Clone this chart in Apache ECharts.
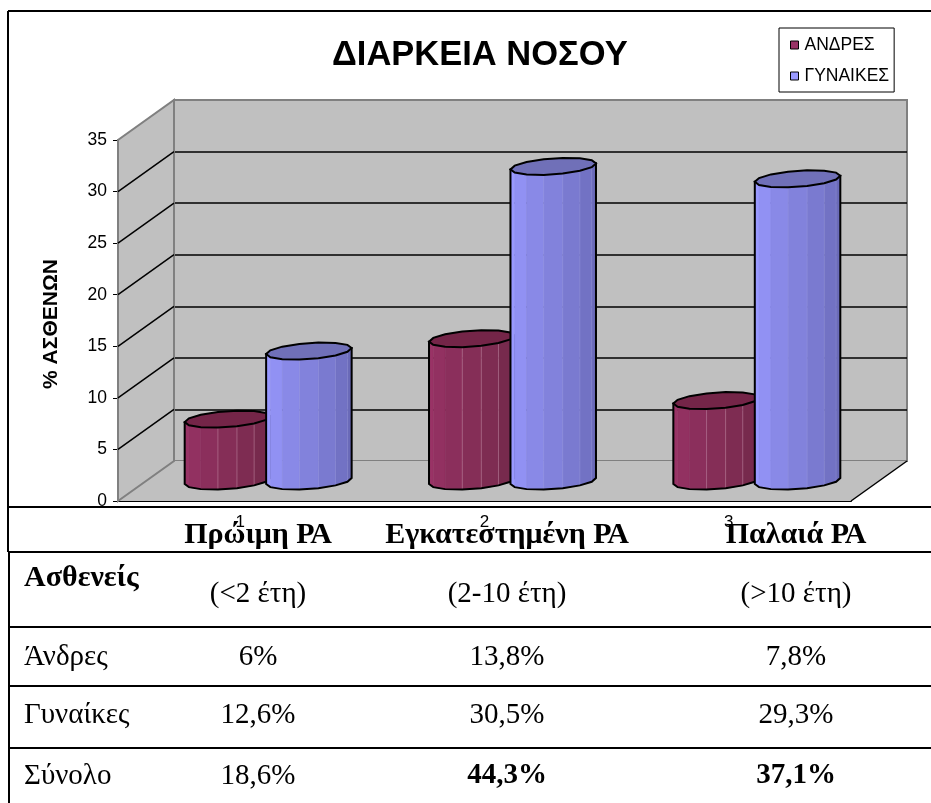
<!DOCTYPE html>
<html style="height: 100%">
<head>
    <meta charset="utf-8">
</head>
<body style="height: 100%; margin: 0; background: #fff">
<div id="container" style="width: 931px; height: 803px"></div>
<script type="text/javascript" src="https://cdn.jsdelivr.net/npm/echarts@6/dist/echarts.min.js"></script>
<script type="text/javascript">
    // chart data
    var categories = ['1', '2', '3'];
    var men = [6, 13.8, 7.8];
    var women = [12.6, 30.5, 29.3];
    var yTicks = [5, 10, 15, 20, 25, 30];

    // table under the chart
    var tableHead = ['Πρώιμη ΡΑ', 'Εγκατεστημένη ΡΑ', 'Παλαιά ΡΑ'];
    var tableYears = ['(<2 έτη)', '(2-10 έτη)', '(>10 έτη)'];
    var rowMen = ['6%', '13,8%', '7,8%'];
    var rowWomen = ['12,6%', '30,5%', '29,3%'];
    var rowTotal = ['18,6%', '44,3%', '37,1%'];

    var SERIF = '"Liberation Serif"';
    var SANS = '"Liberation Sans"';

    // depth of the fake 3d box: back wall = grid 1, front plane = grid 0
    var DX = 56, DY = -40;

    function mix(a, b, k) {
        var out = [];
        for (var i = 0; i < 3; i++) out.push(Math.round(a[i] + (b[i] - a[i]) * k));
        return 'rgb(' + out.join(',') + ')';
    }

    function wallItem(params, api) {
        var band = api.size([1, 0])[0];
        var x0 = api.coord([0, 0])[0] - band / 2;
        var x1 = api.coord([2, 0])[0] + band / 2;
        var y0 = api.coord([0, 0])[1];
        var y1 = api.coord([0, 35])[1];
        var kids = [
            {type: 'polygon', shape: {points: [[x0, y0], [x1, y0], [x1 + DX, y0 + DY], [x0 + DX, y0 + DY]]},
                style: {fill: '#c0c0c0', stroke: null}},
            {type: 'polygon', shape: {points: [[x0, y0], [x0 + DX, y0 + DY], [x0 + DX, y1 + DY], [x0, y1]]},
                style: {fill: '#c0c0c0', stroke: '#808080', lineWidth: 2}},
            {type: 'line', shape: {x1: x1, y1: y0, x2: x1 + DX, y2: y0 + DY},
                style: {stroke: '#000', lineWidth: 1.5}}
        ];
        yTicks.forEach(function (t) {
            var y = api.coord([0, t])[1];
            kids.push({type: 'line', shape: {x1: x0, y1: y, x2: x0 + DX, y2: y + DY},
                style: {stroke: '#000', lineWidth: 1.5}});
        });
        return {type: 'group', children: kids};
    }

    // cylinder: faceted side + tilted top, side = -1 left of the category, +1 right
    function cylinder(side, light, dark, topColor, seam) {
        return function (params, api) {
            var band = api.size([1, 0])[0];
            var base = api.coord([api.value(0), 0]);
            var top = api.coord([api.value(0), api.value(1)]);
            var cx = base[0] + side * band / 6 + DX / 2;
            var rx = band * 0.175, ry = 8, sk = 3;
            var by = base[1] + DY / 2, ty = top[1] + DY / 2;
            var N = 14, i;
            function pt(t, y) {
                return [cx + rx * Math.cos(t), y + ry * Math.sin(t) - sk * Math.cos(t)];
            }
            var kids = [], outline = [], topPts = [];
            for (i = 0; i < N / 2; i++) {
                var a = Math.PI - i * 2 * Math.PI / N, b = a - 2 * Math.PI / N;
                var c = mix(light, dark, i / (N / 2 - 1));
                kids.push({type: 'polygon',
                    shape: {points: [pt(a, ty), pt(b, ty), pt(b, by), pt(a, by)]},
                    style: {fill: c, stroke: c, lineWidth: 0.5}});
                if (i >= 3) {
                    kids.push({type: 'line',
                        shape: {x1: pt(a, ty)[0], y1: pt(a, ty)[1], x2: pt(a, by)[0], y2: pt(a, by)[1]},
                        style: {stroke: seam, lineWidth: 1}});
                }
            }
            for (i = 0; i <= N / 2; i++) outline.push(pt(Math.PI - i * 2 * Math.PI / N, by));
            outline.push(pt(0, ty));
            outline.push(pt(Math.PI, ty));
            for (i = 0; i < N; i++) topPts.push(pt(i * 2 * Math.PI / N, ty));
            kids.push({type: 'polygon', shape: {points: outline},
                style: {fill: 'none', stroke: '#000', lineWidth: 2}});
            kids.push({type: 'polygon', shape: {points: topPts},
                style: {fill: topColor, stroke: '#000', lineWidth: 2}});
            return {type: 'group', children: kids};
        };
    }

    function cells(list, y, size, bolds) {
        var xs = [258, 507, 796];
        return list.map(function (txt, i) {
            return {type: 'text', x: xs[i], y: y, z: 20,
                style: {text: txt, font: (bolds && bolds[i] ? 'bold ' : '') + size + 'px ' + SERIF,
                    fill: '#000', textAlign: 'center', textVerticalAlign: 'middle'}};
        });
    }

    function rowName(txt, y, bold) {
        return {type: 'text', x: 24, y: y, z: 20,
            style: {text: txt, font: (bold ? 'bold 30px ' : '29px ') + SERIF,
                fill: '#000', textAlign: 'left', textVerticalAlign: 'middle'}};
    }

    function hline(y, x) {
        return {type: 'line', z: 19, shape: {x1: x || 8, y1: y, x2: 931, y2: y},
            style: {stroke: '#000', lineWidth: 2}};
    }

    function vline(x, y1, y2) {
        return {type: 'line', z: 19, shape: {x1: x, y1: y1, x2: x, y2: y2},
            style: {stroke: '#000', lineWidth: 2}};
    }

    var table = [
        hline(11), hline(507), hline(552), hline(627), hline(686), hline(748),
        vline(8, 11, 552), vline(9, 552, 803),
        rowName('Ασθενείς', 578, true),
        rowName('Άνδρες', 657), rowName('Γυναίκες', 715), rowName('Σύνολο', 776)
    ].concat(
        cells(tableHead, 535, 30, [true, true, true]),
        cells(tableYears, 594, 29),
        cells(rowMen, 657, 29),
        cells(rowWomen, 715, 29),
        cells(rowTotal, 776, 29, [false, true, true])
    );

    var dom = document.getElementById('container');
    var myChart = echarts.init(dom);

    var option = {
        animation: false,
        backgroundColor: '#fff',
        title: {
            text: 'ΔΙΑΡΚΕΙΑ ΝΟΣΟΥ',
            left: 332,
            top: 38,
            padding: 0,
            textStyle: {fontFamily: SANS, fontSize: 34.5, fontWeight: 'bold', color: '#000'}
        },
        legend: {
            left: 779,
            top: 28,
            orient: 'vertical',
            padding: [8, 5, 7, 11],
            itemGap: 13,
            itemWidth: 8,
            itemHeight: 8,
            backgroundColor: '#fff',
            borderColor: '#000',
            borderWidth: 1,
            textStyle: {fontFamily: SANS, fontSize: 17.5, color: '#000', padding: [0, 0, 0, 1]},
            data: [
                {name: 'ΑΝΔΡΕΣ', icon: 'rect', itemStyle: {color: '#993366', borderColor: '#000', borderWidth: 1}},
                {name: 'ΓΥΝΑΙΚΕΣ', icon: 'rect', itemStyle: {color: '#9999ff', borderColor: '#000', borderWidth: 1}}
            ]
        },
        grid: [
            {left: 118, top: 140, width: 733, height: 361},
            {left: 174, top: 100, width: 733, height: 361, show: true,
                backgroundColor: '#c0c0c0', borderColor: '#808080', borderWidth: 2}
        ],
        xAxis: [
            {type: 'category', gridIndex: 0, data: categories,
                axisLine: {lineStyle: {color: '#000', width: 2}},
                axisTick: {length: 6, lineStyle: {color: '#000'}},
                axisLabel: {color: '#000', fontFamily: SANS, fontSize: 17, margin: 13}},
            {type: 'category', gridIndex: 1, data: categories, show: false}
        ],
        yAxis: [
            {type: 'value', gridIndex: 0, min: 0, max: 35, interval: 5,
                name: '% ΑΣΘΕΝΩΝ', nameLocation: 'middle', nameGap: 56, nameRotate: 90,
                nameTextStyle: {fontFamily: SANS, fontSize: 21, fontWeight: 'bold', color: '#000', padding: [0, 7, 0, 0]},
                axisLine: {show: true, lineStyle: {color: '#000', width: 1.5}},
                axisTick: {show: true, length: 5, lineStyle: {color: '#000'}},
                axisLabel: {color: '#000', fontFamily: SANS, fontSize: 17.5, margin: 11, padding: [4, 0, 0, 0]},
                splitLine: {show: false}},
            {type: 'value', gridIndex: 1, min: 0, max: 35, interval: 5,
                axisLine: {show: false}, axisTick: {show: false}, axisLabel: {show: false},
                splitLine: {show: true, showMinLine: false, showMaxLine: false,
                    lineStyle: {color: '#000', width: 1.5}}}
        ],
        series: [
            {type: 'custom', name: 'walls', silent: true, z: 1, renderItem: wallItem, data: [[0, 0]]},
            {type: 'custom', name: 'ΑΝΔΡΕΣ', z: 2, itemStyle: {color: '#993366'},
                renderItem: cylinder(-1, [153, 51, 102], [112, 40, 72], '#742548', 'rgba(200,140,170,0.5)'),
                encode: {x: 0, y: 1},
                data: men.map(function (v, i) { return [i, v]; })},
            {type: 'custom', name: 'ΓΥΝΑΙΚΕΣ', z: 3, itemStyle: {color: '#9999ff'},
                renderItem: cylinder(1, [153, 153, 255], [106, 106, 184], '#7070b8', 'rgba(170,170,240,0.3)'),
                encode: {x: 0, y: 1},
                data: women.map(function (v, i) { return [i, v]; })}
        ],
        graphic: table
    };

    myChart.setOption(option);
</script>
</body>
</html>
